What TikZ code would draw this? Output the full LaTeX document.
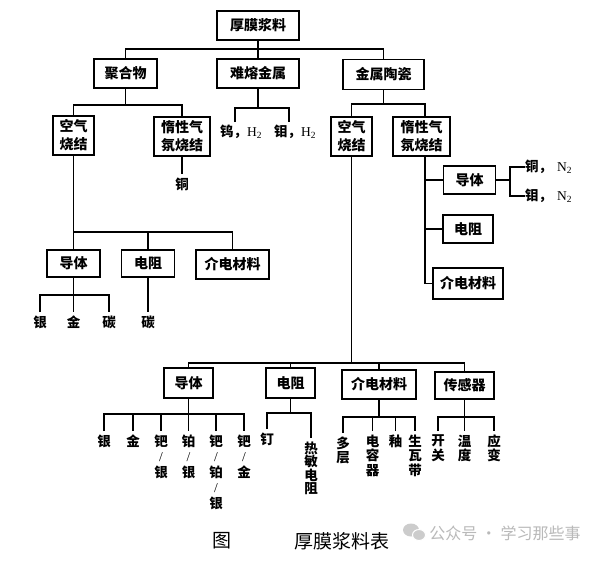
\documentclass[tikz,border=0pt]{standalone}
\usepackage{fontspec}
\setmainfont{Liberation Serif}
\newfontfamily\cjk{Noto Sans CJK SC}
\newcommand\Hz{{\rmfamily\mdseries H\textsubscript{2}}}
\newcommand\Nz{{\rmfamily\mdseries N\textsubscript{2}}}
\newcommand\slsh{{\rmfamily\mdseries /}}
\begin{document}
\begin{tikzpicture}[x=1pt,y=-1pt,
  box/.style={draw, line width=1.7pt, inner sep=0pt, align=center,
    font=\cjk\bfseries\fontsize{14}{18}\selectfont},
  lbl/.style={inner xsep=0pt, inner ysep=3.5pt, anchor=north, align=center,
    font=\cjk\bfseries\fontsize{13.5}{14.5}\selectfont},
  lblsl/.style={lbl, font=\cjk\bfseries\fontsize{13.5}{15.5}\selectfont},
  conn/.style={line width=1.45pt}]
\useasboundingbox (0,0) rectangle (594,565);
\fill[white] (0,0) rectangle (594,565);

% boxes
\node[box, minimum width=82, minimum height=29] (top) at (258,25.5) {厚膜浆料};
\node[box, minimum width=63, minimum height=29] (poly) at (125.5,73.5) {聚合物};
\node[box, minimum width=82, minimum height=29] (refr) at (258,73.5) {难熔金属};
\node[box, minimum width=81, minimum height=30] (cer) at (383.5,74.5) {金属陶瓷};
\node[box, minimum width=41, minimum height=39] (airL) at (73.5,135.5) {空气\\烧结};
\node[box, minimum width=56, minimum height=39] (inL) at (182,136.5) {惰性气\\氛烧结};
\node[box, minimum width=41, minimum height=39] (airR) at (351.5,136.5) {空气\\烧结};
\node[box, minimum width=57, minimum height=39] (inR) at (421.5,136.5) {惰性气\\氛烧结};
\node[box, minimum width=52, minimum height=28] (condR) at (469.5,180) {导体};
\node[box, minimum width=50, minimum height=28] (resR) at (468,229) {电阻};
\node[box, minimum width=70, minimum height=31] (dieR) at (468,283.5) {介电材料};
\node[box, minimum width=53, minimum height=27] (condL) at (73.5,263.5) {导体};
\node[box, minimum width=53, minimum height=27] (resL) at (148,263.5) {电阻};
\node[box, minimum width=73, minimum height=29] (dieL) at (232.5,264.5) {介电材料};
\node[box, minimum width=49, minimum height=30] (condB) at (188.5,383) {导体};
\node[box, minimum width=49, minimum height=30] (resB) at (290.5,383) {电阻};
\node[box, minimum width=74, minimum height=29] (dieB) at (379,384.5) {介电材料};
\node[box, minimum width=59, minimum height=27] (senB) at (464.5,385.5) {传感器};

% labels
\node[lbl] (cuL) at (182,174) {铜};
\node[lbl, anchor=center] (wH) at (241,132) {钨，\Hz};
\node[lbl, anchor=center] (moH) at (295,132) {钼，\Hz};
\node[lbl, anchor=west] (cuR) at (525,167) {铜，\hspace{5pt}\Nz};
\node[lbl, anchor=west] (moR) at (525,196) {钼，\hspace{5pt}\Nz};
\node[lbl] (agL) at (40,312) {银};
\node[lbl] (auL) at (73.5,312) {金};
\node[lbl] (cL) at (109,312) {碳};
\node[lbl] (cR) at (148,312) {碳};
\node[lbl] (b1) at (104,431) {银};
\node[lbl] (b2) at (133,431) {金};
\node[lblsl] (b3) at (161,431) {钯\\\slsh\\银};
\node[lblsl] (b4) at (188.5,431) {铂\\\slsh\\银};
\node[lblsl] (b5) at (216,431) {钯\\\slsh\\铂\\\slsh\\银};
\node[lblsl] (b6) at (244,431) {钯\\\slsh\\金};
\node[lbl] (r1) at (267,429) {钉};
\node[lbl, font=\cjk\bfseries\fontsize{13.5}{13.5}\selectfont] (r2) at (311,438) {热\\敏\\电\\阻};
\node[lbl] (d1) at (343,433) {多\\层};
\node[lbl] (d2) at (372.5,431) {电\\容\\器};
\node[lbl] (d3) at (395.5,431) {釉};
\node[lbl] (d4) at (415,431) {生\\瓦\\带};
\node[lbl] (s1) at (438,431) {开\\关};
\node[lbl] (s2) at (464.5,431) {温\\度};
\node[lbl] (s3) at (494,431) {应\\变};

% coordinates
\coordinate (tbus) at (258,49);
\coordinate (pbus) at (125.5,105);
\coordinate (cbus) at (383.5,104);
\coordinate (wt) at (235,122);
\coordinate (mt) at (289,122);
\coordinate (rs) at (425,283.5);
\coordinate (cj) at (510,183);
\coordinate (lbus) at (73.5,232);
\coordinate (lcb) at (73.5,295);
\coordinate (bb) at (351.5,363);
\coordinate (cbb) at (188.5,414);
\coordinate (rbb) at (290.5,413);
\coordinate (dbb) at (379,417);
\coordinate (sbb) at (464.5,417);

% connectors
\begin{scope}[conn]
\draw (top.south) -- (refr.north);
\draw (poly.north) |- (tbus) -| (cer.north);
\draw (poly.south) -- (pbus);
\draw (airL.north) |- (pbus) -| (inL.north);
\draw (inL.south) -- (cuL.north);
\draw (refr.south) -- ++(0,20);
\draw (wt) -- ++(0,-14) -| (mt);
\draw (cer.south) -- (cbus);
\draw (airR.north) |- (cbus) -| (inR.north -| rs);
\draw (inR.south -| rs) -- (rs) -- (dieR.west);
\draw (condR.west) -- (condR.west -| rs);
\draw (resR.west) -- (resR.west -| rs);
\draw (condR.east) -- (condR.east -| cj);
\draw (cuR.west) -| (cj) |- (moR.west);
\draw (airL.south) -- (condL.north);
\draw (lbus) -| (resL.north);
\draw (lbus) -| (dieL.north);
\draw (condL.south) -- (auL.north);
\draw (agL.north) |- (lcb) -| (cL.north);
\draw (resL.south) -- (cR.north);
\draw (airR.south) -- (bb);
\draw (condB.north) |- (bb) -| (senB.north);
\draw (bb) -| (resB.north);
\draw (bb) -| (dieB.north);
\draw (condB.south) -- (b4.north);
\draw (b1.north) |- (cbb) -| (b6.north);
\draw (b2.north) -- (b2.north |- cbb);
\draw (b3.north) -- (b3.north |- cbb);
\draw (b5.north) -- (b5.north |- cbb);
\draw (resB.south) -- (rbb);
\draw (r1.north) |- (rbb) -| (r2.north);
\draw (dieB.south) -- (dbb);
\draw (d1.north) |- (dbb) -| (d4.north);
\draw (d2.north) -- (d2.north |- dbb);
\draw (d3.north) -- (d3.north |- dbb);
\draw (senB.south) -- (s2.north);
\draw (s1.north) |- (sbb) -| (s3.north);
\end{scope}

% caption
\node[font=\cjk\fontsize{19}{19}\selectfont] (fig) at (222,541) {图};
\node[font=\cjk\fontsize{19}{19}\selectfont] (cap) at (341.5,541) {厚膜浆料表};
% watermark
\fill[gray!40] (411,530) ellipse (8 and 6.5);
\fill[gray!40, draw=white, line width=1pt] (419,535) ellipse (6.5 and 5.5);
\node[font=\cjk\fontsize{16}{16}\selectfont, text=gray!55] (wm) at (505,533) {公众号 · 学习那些事};
\end{tikzpicture}
\end{document}
